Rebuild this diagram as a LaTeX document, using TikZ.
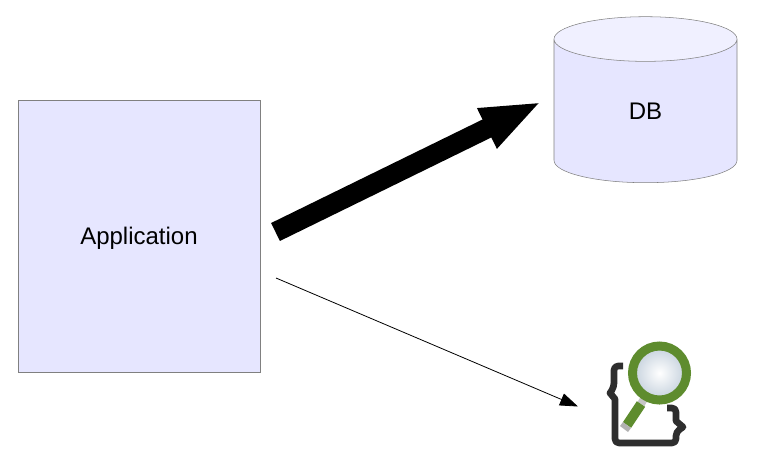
\documentclass[tikz,border=0pt]{standalone}
\usepackage{fontspec}
\setmainfont{Liberation Sans}
\usetikzlibrary{arrows.meta, shapes.geometric}

\definecolor{boxblue}{HTML}{E6E6FF}
\definecolor{boxtop}{HTML}{F0F0FF}
\definecolor{boxline}{HTML}{808080}
\definecolor{iconblack}{HTML}{2E2E2E}
\definecolor{icongreen}{HTML}{5E8C2E}
\definecolor{lensedge}{HTML}{C4D0DC}
\tikzset{
    box/.style={draw=boxline, inner sep=0pt, font=\fontsize{18}{22}\selectfont},
}

\begin{document}
\begin{tikzpicture}[x=0.75pt, y=-0.75pt]
    \useasboundingbox (0,0) rectangle (760,468);
    % Application box
    \node[box, rectangle, fill=boxblue, text height=16pt, text depth=3.8pt,
          minimum width=181.5pt, minimum height=204pt] (app) at (139,236) {Application};
    % Database
    \node[box, cylinder, shape border rotate=90, aspect=1.34, cylinder uses custom fill,
          cylinder body fill=boxblue, cylinder end fill=boxtop,
          minimum width=137.25pt, minimum height=124.5pt] (db) at (645.5,111) {DB};
    % Free arrow ends
    \coordinate (thickstart) at (275.5,232);
    \coordinate (thickend) at (542,101.5);
    \coordinate (thinstart) at (276,278);
    \coordinate (thinend) at (578,406.5);
    % Arrows
    \draw[line width=15pt, -{Triangle[length=46pt, width=30pt]}] (thickstart) -- (thickend);
    \draw[line width=0.6pt, -{Triangle[length=13.5pt, width=9.5pt]}] (thinstart) -- (thinend);
    % Braces of the icon
    \draw[iconblack, line width=5pt, line join=round]
        (623,366) [rounded corners=3pt] -- (614,366) -- (614,387) [sharp corners] -- (610,393) -- (615,399)
        [rounded corners=3pt] -- (615,443) -- (676,443) -- (676,432) [sharp corners] -- (683,427) -- (676,421)
        [rounded corners=3pt] -- (676,408) -- (667,408);
    % Handle
    \draw[gray!45, line width=6pt] (645,397) -- (641,404);
    \draw[icongreen, line width=7.5pt] (641,404) -- (627,425);
    \draw[gray!60, line width=7.5pt] (627,425) -- (624,429);
    % Lens
    \draw[icongreen, line width=6.75pt, shading=radial, inner color=white, outer color=lensedge] (659.5,373) circle (27);
\end{tikzpicture}
\end{document}
